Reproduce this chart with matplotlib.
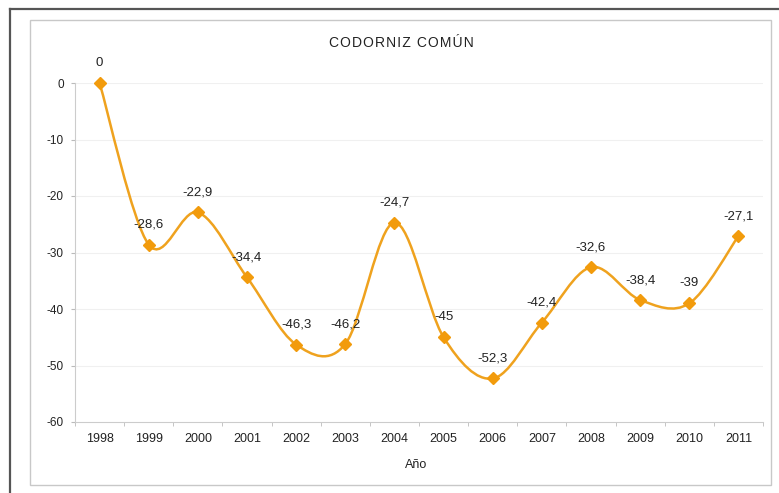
import matplotlib
matplotlib.use('Agg')
import matplotlib.pyplot as plt
from matplotlib.path import Path
from matplotlib.patches import PathPatch, Rectangle
from matplotlib.lines import Line2D

plt.rcParams['font.family'] = ['Liberation Sans', 'DejaVu Sans']

years = ['1998', '1999', '2000', '2001', '2002', '2003', '2004',
         '2005', '2006', '2007', '2008', '2009', '2010', '2011']
values = [0, -28.6, -22.9, -34.4, -46.3, -46.2, -24.7,
          -45, -52.3, -42.4, -32.6, -38.4, -39, -27.1]
labels = ['0', '-28,6', '-22,9', '-34,4', '-46,3', '-46,2', '-24,7',
          '-45', '-52,3', '-42,4', '-32,6', '-38,4', '-39', '-27,1']

line_col = '#EFA21E'
mark_col = '#F29B0C'
txt_col = '#222222'

fig = plt.figure(figsize=(7.79, 4.93), dpi=100)

# frames
fig.add_artist(Line2D([10 / 779, 10 / 779], [0, 1 - 9 / 493], color='#555555', lw=1.6))
fig.add_artist(Line2D([10 / 779, 1], [1 - 9 / 493, 1 - 9 / 493], color='#555555', lw=1.6))
fig.add_artist(Rectangle((30 / 779, 1 - 485 / 493), 741 / 779, 465 / 493,
                         fill=False, ec='#c8c8c8', lw=1.0))

ax = fig.add_axes([75 / 779, 71 / 493, 688 / 779, 339 / 493])
x = list(range(len(years)))

# smooth line (Excel-like cubic bezier, tension 1/6)
verts = [(x[0], values[0])]
codes = [Path.MOVETO]
n = len(x)
for i in range(n - 1):
    p0 = (x[max(i - 1, 0)], values[max(i - 1, 0)])
    p1 = (x[i], values[i])
    p2 = (x[i + 1], values[i + 1])
    p3 = (x[min(i + 2, n - 1)], values[min(i + 2, n - 1)])
    c1 = (p1[0] + (p2[0] - p0[0]) / 6, p1[1] + (p2[1] - p0[1]) / 6)
    c2 = (p2[0] - (p3[0] - p1[0]) / 6, p2[1] - (p3[1] - p1[1]) / 6)
    verts += [c1, c2, p2]
    codes += [Path.CURVE4] * 3
ax.add_patch(PathPatch(Path(verts, codes), fill=False, ec=line_col, lw=1.8, clip_on=False, zorder=3))
ax.plot(x, values, ls='none', marker='D', ms=6.5, color=mark_col, clip_on=False, zorder=4)

for xi, v, lab in zip(x, values, labels):
    ax.annotate(lab, (xi, v), xytext=(0, 10), textcoords='offset points',
                ha='center', va='bottom', fontsize=9.5, color=txt_col)

ax.set_xlim(-0.5, n - 0.5)
ax.set_ylim(-60, 0)
ax.set_yticks(range(-60, 1, 10))
ax.set_yticklabels([str(t) for t in range(-60, 1, 10)], fontsize=8.5, color=txt_col)
ax.set_xticks(x)
ax.set_xticklabels(years, fontsize=9, color=txt_col)
ax.set_xticks([i - 0.5 for i in range(n + 1)], minor=True)
ax.tick_params(axis='x', which='major', length=0, pad=8)
ax.tick_params(axis='x', which='minor', length=3, color='#bbbbbb')
ax.tick_params(axis='y', length=3, color='#bbbbbb', pad=5)
for yv in range(-50, 1, 10):
    ax.axhline(yv, color='#f0f0f0', lw=0.8, zorder=0)
for s in ['top', 'right']:
    ax.spines[s].set_visible(False)
ax.spines['left'].set_color('#cccccc')
ax.spines['bottom'].set_color('#cccccc')

title = '\u200a'.join('CODORNIZ COMÚN')
fig.text(401 / 779, 1 - 43 / 493, title,
         ha='center', va='center', fontsize=10, color=txt_col)
fig.text(416 / 779, 1 - 465 / 493, 'Año', ha='center', va='center', fontsize=9, color=txt_col)

fig.savefig('out.png', dpi=100)
